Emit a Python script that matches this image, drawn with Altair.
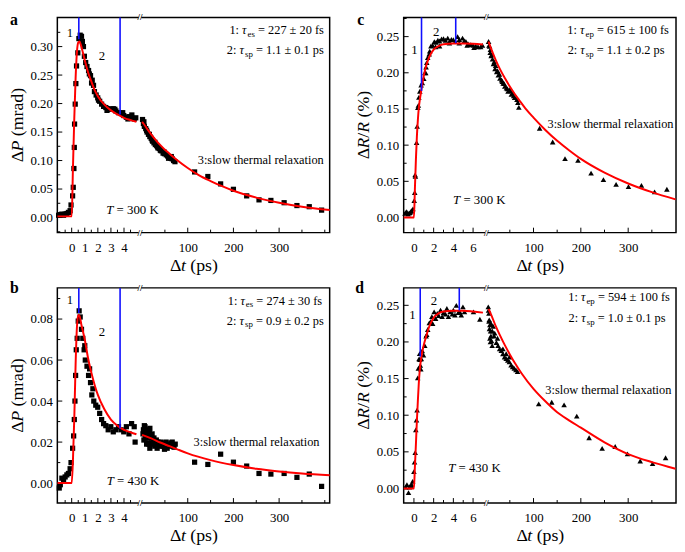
import altair as alt
import pandas as pd

# ================= DATA =================
# ---- panel a : dP, T = 300 K ----
a_t1 = [-1.0, -0.87, -0.75, -0.62, -0.5, -0.37, -0.25, -0.12, -0.05, 0.07, 0.12, 0.17, 0.2, 0.22, 0.27, 0.32,
        0.37, 0.47, 0.55, 0.65, 0.75, 0.82, 0.9, 0.97, 1.07, 1.17, 1.29, 1.35, 1.44, 1.52, 1.57, 1.67, 1.74,
        1.87, 1.99, 2.05, 2.14, 2.29, 2.44, 2.61, 2.7, 2.79, 2.99, 3.18, 3.3, 3.38, 3.58, 3.78, 3.9, 3.98,
        4.18, 4.3, 4.38, 4.58, 4.6, 4.78, 4.9]
a_v1 = [0.004, 0.005, 0.006, 0.004, 0.006, 0.007, 0.009, 0.012, 0.022, 0.038, 0.053, 0.086, 0.123, 0.164,
        0.199, 0.235, 0.266, 0.289, 0.314, 0.320, 0.318, 0.309, 0.300, 0.283, 0.272, 0.265, 0.258, 0.252,
        0.249, 0.236, 0.241, 0.232, 0.221, 0.215, 0.210, 0.206, 0.204, 0.199, 0.195, 0.193, 0.188, 0.191,
        0.190, 0.191, 0.190, 0.187, 0.184, 0.183, 0.184, 0.179, 0.176, 0.173, 0.177, 0.176, 0.180, 0.173, 0.175]
a_t2 = [1, 3, 4, 5, 8, 10, 11, 14, 16, 17, 20, 22, 23, 26, 28, 29, 32, 34, 35, 38, 40, 42, 46, 48, 49, 53,
        56, 58, 60, 63, 64, 66, 69, 72, 115, 144, 172, 200, 229, 256, 282, 311, 339, 366, 393]
a_v2 = [0.172, 0.165, 0.168, 0.160, 0.156, 0.153, 0.150, 0.146, 0.146, 0.142, 0.139, 0.136, 0.134, 0.131,
        0.132, 0.128, 0.126, 0.124, 0.122, 0.121, 0.118, 0.117, 0.113, 0.115, 0.112, 0.110, 0.108, 0.104,
        0.106, 0.104, 0.107, 0.103, 0.100, 0.098, 0.080, 0.072, 0.059, 0.0495, 0.038, 0.031, 0.030, 0.026,
        0.021, 0.019, 0.013]
a_ft1 = [-1.1, 0.0, 0.1, 0.2, 0.3, 0.4, 0.5, 0.6, 0.7, 0.85, 1.0, 1.25, 1.5, 1.75, 2.0, 2.5, 3.0, 3.5, 4.0, 4.5, 4.95]
a_fv1 = [0.002, 0.002, 0.09, 0.175, 0.245, 0.29, 0.307, 0.309, 0.303, 0.29, 0.276, 0.255, 0.239, 0.224,
         0.213, 0.198, 0.188, 0.181, 0.175, 0.171, 0.168]
a_ft2 = [0, 3, 10, 20, 30, 40, 50, 60, 75, 100, 125, 150, 175, 200, 250, 300, 350, 412]
a_fv2 = [0.168, 0.165, 0.157, 0.146, 0.136, 0.127, 0.119, 0.112, 0.102, 0.087, 0.074, 0.064, 0.055, 0.047,
         0.035, 0.026, 0.019, 0.013]
a_mt = [0.545, 3.7]
a_mv = [0.313, 0.181]

# ---- panel b : dP, T = 430 K ----
b_t1 = [-0.95, -0.87, -0.75, -0.62, -0.5, -0.37, -0.25, -0.12, -0.05, 0.07, 0.15, 0.2, 0.25, 0.3, 0.35, 0.42,
        0.5, 0.57, 0.65, 0.75, 0.85, 0.95, 1.0, 1.04, 1.17, 1.29, 1.37, 1.44, 1.54, 1.62, 1.69, 1.84, 1.99,
        2.14, 2.29, 2.44, 2.61, 2.79, 2.99, 3.18, 3.38, 3.58, 3.78, 3.98, 4.18, 4.38, 4.58, 4.78, 4.85]
b_v1 = [-0.0024, -0.0008, 0.0024, 0.001, 0.003, 0.004, 0.0047, 0.007, 0.010, 0.017, 0.023, 0.031, 0.040,
        0.0525, 0.065, 0.0706, 0.079, 0.084, 0.081, 0.075, 0.0706, 0.065, 0.067, 0.060, 0.057, 0.0525,
        0.0557, 0.049, 0.043, 0.046, 0.040, 0.038, 0.037, 0.034, 0.031, 0.029, 0.028, 0.026, 0.0275, 0.025,
        0.026, 0.0275, 0.026, 0.025, 0.0275, 0.024, 0.029, 0.0275, 0.020]
b_t2 = [2, 3, 4, 5, 6.4, 7, 8.5, 9, 10, 11.3, 12, 13, 14.1, 15, 16, 17, 17.1, 19, 20.5, 22, 24.1, 25, 26,
        27.8, 29, 31.2, 33, 34.8, 36, 38.5, 41, 44, 46, 49.1, 52.6, 55, 57.7, 61, 63.2, 66, 68.4, 70, 72.6,
        115, 144, 172, 200, 229, 256, 282, 311, 339, 366, 393]
b_v2 = [0.024, 0.026, 0.021, 0.028, 0.0275, 0.022, 0.0235, 0.026, 0.019, 0.025, 0.0196, 0.024, 0.022,
        0.019, 0.025, 0.017, 0.0267, 0.023, 0.0196, 0.024, 0.021, 0.019, 0.022, 0.018, 0.020, 0.021, 0.017,
        0.020, 0.019, 0.018, 0.020, 0.0196, 0.018, 0.0165, 0.020, 0.017, 0.019, 0.018, 0.0196, 0.020, 0.018,
        0.0175, 0.019, 0.0102, 0.0091, 0.0141, 0.0102, 0.0083, 0.0047, 0.0044, 0.0047, 0.0028, 0.0044, -0.0016]
b_ft1 = [-1.1, 0.0, 0.1, 0.2, 0.3, 0.4, 0.5, 0.6, 0.75, 1.0, 1.25, 1.5, 1.75, 2.0, 2.5, 3.0, 3.5, 4.0, 4.5, 4.95]
b_fv1 = [0.0, 0.0, 0.012, 0.032, 0.058, 0.076, 0.082, 0.0815, 0.077, 0.070, 0.061, 0.054, 0.048, 0.043,
         0.036, 0.031, 0.028, 0.026, 0.0248, 0.0238]
b_ft2 = [0, 20, 40, 60, 80, 100, 150, 200, 250, 300, 350, 412]
b_fv2 = [0.0235, 0.0218, 0.0198, 0.018, 0.0162, 0.0145, 0.0112, 0.0088, 0.0070, 0.0057, 0.0047, 0.0038]
b_mt = [0.545, 3.7]
b_mv = [0.083, 0.0266]

# ---- panel c : dR/R, T = 300 K ----
c_t1 = [-0.9, -0.8, -0.73, -0.6, -0.5, -0.4, -0.3, -0.23, -0.1, 0.03, 0.08, 0.12, 0.15, 0.27, 0.33, 0.4,
        0.45, 0.5, 0.6, 0.73, 0.85, 1.0, 1.1, 1.2, 1.23, 1.3, 1.4, 1.55, 1.6, 1.73, 1.9, 2.07, 2.2, 2.25, 2.43,
        2.6, 2.6, 2.8, 3.0, 3.2, 3.43, 3.6, 3.6, 3.8, 4.0, 4.2, 4.43, 4.6, 4.6, 4.93, 5.1, 5.27, 5.4, 5.5,
        5.77, 6.0, 6.1, 6.27, 6.5, 6.77, 6.95]
c_v1 = [0.0057, 0.0075, 0.008, 0.0048, 0.006, 0.0067, 0.0085, 0.0093, 0.012, 0.0235, 0.0346, 0.059, 0.057,
        0.1035, 0.126, 0.152, 0.155, 0.166, 0.1745, 0.183, 0.186, 0.192, 0.200, 0.200, 0.208, 0.214, 0.221,
        0.226, 0.230, 0.237, 0.238, 0.243, 0.236, 0.242, 0.245, 0.244, 0.237, 0.2467, 0.247, 0.245, 0.248,
        0.243, 0.241, 0.246, 0.2457, 0.243, 0.250, 0.246, 0.241, 0.248, 0.244, 0.2435, 0.238, 0.240, 0.239,
        0.238, 0.235, 0.237, 0.236, 0.236, 0.238]
c_t2 = [5.1, 6, 7.2, 8.5, 9, 10.6, 12, 13.4, 15.4, 17, 18.8, 20, 22.3, 24, 25.7, 28, 29.1, 32.6, 34, 36, 38,
        39.4, 42.9, 45, 46.3, 49.8, 52, 53.2, 56.6, 58, 60.1, 63.5, 65, 67, 69,
        113, 140.5, 166.6, 194, 221.6, 247.7, 274.5, 300.6, 328, 355.7, 381.7]
c_v2 = [0.2433, 0.238, 0.2367, 0.2278, 0.232, 0.2234, 0.225, 0.2189, 0.2123, 0.215, 0.2056, 0.210, 0.2012,
        0.203, 0.1967, 0.198, 0.1923, 0.190, 0.188, 0.1856, 0.185, 0.1812, 0.179, 0.178, 0.1745, 0.1767,
        0.175, 0.1701, 0.1723, 0.168, 0.1656, 0.1656, 0.163, 0.159, 0.1523,
        0.1234, 0.1044, 0.0813, 0.079, 0.0613, 0.0524, 0.0457, 0.0426, 0.0444, 0.0355, 0.0391]
c_ft1 = [-1.1, 0.0, 0.1, 0.2, 0.3, 0.4, 0.5, 0.6, 0.75, 1.0, 1.25, 1.5, 1.75, 2.0, 2.5, 3.0, 4.0, 5.0, 6.0, 7.0]
c_fv1 = [0.0, 0.0, 0.04, 0.08, 0.112, 0.135, 0.152, 0.163, 0.176, 0.196, 0.21, 0.22, 0.227, 0.232, 0.237,
         0.2395, 0.2405, 0.2405, 0.240, 0.239]
c_ft2 = [5, 10, 20, 30, 40, 50, 60, 70, 85, 100, 125, 150, 175, 200, 250, 300, 350, 400]
c_fv2 = [0.243, 0.234, 0.218, 0.204, 0.192, 0.181, 0.171, 0.162, 0.149, 0.138, 0.121, 0.106, 0.093, 0.081,
         0.062, 0.047, 0.035, 0.025]
c_mt = [0.77, 4.24]
c_mv = [0.175, 0.241]

# ---- panel d : dR/R, T = 430 K ----
d_t1 = [-0.84, -0.71, -0.55, -0.45, -0.39, -0.3, -0.23, -0.13, 0.0, 0.06, 0.13, 0.19, 0.26, 0.32, 0.39, 0.45,
        0.52, 0.58, 0.6, 0.65, 0.7, 0.75, 0.84, 0.97, 1.1, 1.23, 1.3, 1.4, 1.56, 1.72, 1.82, 1.9, 2.05, 2.2,
        2.37, 2.5, 2.7, 2.86, 3.0, 3.2, 3.34, 3.5, 3.67, 3.9, 4.0, 4.16, 4.3, 4.5, 4.64, 4.8, 4.97, 5.13,
        6.04, 6.69]
d_v1 = [0.0018, 0.0053, -0.0057, 0.002, 0.0031, 0.004, 0.0053, 0.0097, 0.023, 0.036, 0.049, 0.080, 0.0935,
        0.107, 0.151, 0.164, 0.177, 0.184, 0.176, 0.168, 0.163, 0.177, 0.188, 0.182, 0.195, 0.208, 0.210,
        0.217, 0.226, 0.228, 0.2346, 0.225, 0.241, 0.232, 0.239, 0.236, 0.2434, 0.2346, 0.240, 0.238,
        0.2456, 0.2346, 0.241, 0.238, 0.2434, 0.2368, 0.250, 0.240, 0.241, 0.2368, 0.2478, 0.241, 0.241, 0.231]
d_t2 = [4.5, 5, 5.8, 6, 6.5, 7, 7.9, 8, 9, 9.3, 10, 10.5, 11.3, 12.7, 13, 14.8, 16.8, 18, 21.6, 24, 25.1,
        28.5, 32, 35.4, 35.4, 38.8, 42.3, 42.3, 45.7, 49.1, 49.1, 52.6, 56, 59.4, 62.9, 66.3,
        111, 138.5, 164.6, 191.4, 217.5, 245, 272.5, 298.6, 325.4, 351.5, 379]
d_v2 = [0.2478, 0.243, 0.239, 0.228, 0.2302, 0.218, 0.2235, 0.205, 0.200, 0.2147, 0.2081, 0.225, 0.2015,
        0.1949, 0.215, 0.2213, 0.2081, 0.212, 0.1993, 0.205, 0.1949, 0.1905, 0.1883, 0.1839, 0.1905, 0.1795,
        0.1772, 0.1839, 0.175, 0.1728, 0.1795, 0.1684, 0.1662, 0.164, 0.1618, 0.1596,
        0.1155, 0.1177, 0.1142, 0.0988, 0.0692, 0.0547, 0.0573, 0.0472, 0.0375, 0.034, 0.0419]
d_ft1 = [-1.1, 0.0, 0.1, 0.2, 0.3, 0.4, 0.5, 0.6, 0.75, 1.0, 1.25, 1.5, 1.75, 2.0, 2.5, 3.0, 4.0, 5.0, 6.0, 7.0]
d_fv1 = [0.0, 0.0, 0.03, 0.06, 0.092, 0.12, 0.145, 0.163, 0.179, 0.196, 0.208, 0.219, 0.227, 0.233, 0.239,
         0.2415, 0.2425, 0.2425, 0.2415, 0.240]
d_ft2 = [5, 10, 20, 30, 40, 50, 60, 75, 100, 125, 150, 175, 200, 250, 300, 350, 400]
d_fv2 = [0.245, 0.238, 0.222, 0.208, 0.195, 0.183, 0.172, 0.157, 0.136, 0.119, 0.104, 0.093, 0.083, 0.063,
         0.047, 0.036, 0.027]
d_mt = [0.64, 4.6]
d_mv = [0.18, 0.243]

# ---- axis tick values ----
ab_xmaj1 = [0, 1, 2, 3, 4]
ab_xmin1 = [-0.5, 0.5, 1.5, 2.5, 3.5, 4.5]
cd_xmaj1 = [0, 2, 4, 6]
cd_xmin1 = [1, 3, 5]
xmaj2 = [100, 200, 300]
ab_xmin2 = [50, 150, 250, 350, 400]
cd_xmin2 = [50, 150, 250, 350]
a_ymaj = [0.0, 0.05, 0.10, 0.15, 0.20, 0.25, 0.30]
a_ymin = [-0.025, 0.025, 0.075, 0.125, 0.175, 0.225, 0.275, 0.325]
b_ymaj = [0.0, 0.02, 0.04, 0.06, 0.08]
b_ymin = [0.01, 0.03, 0.05, 0.07, 0.09]
c_ymaj = [0.0, 0.05, 0.10, 0.15, 0.20, 0.25]
c_ymin = [0.025, 0.075, 0.125, 0.175, 0.225, 0.275]
d_ymin = [0.025, 0.075, 0.125, 0.175, 0.225]

# ================= LAYOUT / STYLE =================
FONT = "Liberation Serif"
W, H = 276, 218
RW, RH = 279.0, 223.5
ONE = pd.DataFrame({"k": [0]})
RED = "#ff0000"
BLUE = "#1010ff"


def SX(x):
    return x * W / RW


def SY(y):
    return y * H / RH


CW = {" ": 0.25, ".": 0.25, ":": 0.278, "=": 0.564, "±": 0.549, "Δ": 0.612, "(": 0.333, ")": 0.333,
      "/": 0.278, "%": 0.833, "a": 0.444, "d": 0.5, "e": 0.444, "f": 0.333, "h": 0.5, "i": 0.278,
      "l": 0.278, "m": 0.778, "n": 0.5, "o": 0.5, "p": 0.5, "r": 0.333, "s": 0.389, "t": 0.278,
      "w": 0.722, "x": 0.5, "K": 0.722, "P": 0.556, "R": 0.667, "T": 0.611, "τ": 0.44}
CWI = {"P": 0.611, "R": 0.611, "T": 0.556, "t": 0.278, "τ": 0.44}


def tw(s, size, italic=False):
    tot = 0.0
    for ch in s:
        w = CW.get(ch, 0.5)
        if italic and ch in CWI:
            w = CWI[ch]
        tot += w
    return tot * size


def rich(runs, x, y, size, align="left", angle=0):
    items = []
    for txt, kind in runs:
        sz = size * 0.72 if kind == "s" else size
        items.append((txt, kind, sz, tw(txt, sz, kind == "i")))
    total = sum(it[3] for it in items)
    start = 0 if align == "left" else (-total if align == "right" else -total / 2)
    out = []
    pos = start
    for txt, kind, sz, w in items:
        lead = len(txt) - len(txt.lstrip(" "))
        body = txt.strip(" ")
        off = pos + lead * CW[" "] * sz
        if body:
            if angle == 0:
                px, py = x + off, y + (0.3 * size if kind == "s" else 0)
            else:
                px, py = x, y - off
            mk = dict(text=body, font=FONT, fontSize=sz, align="left", baseline="middle",
                      color="black", fontStyle="italic" if kind == "i" else "normal")
            if angle:
                mk["angle"] = angle
            out.append(alt.Chart(ONE).mark_text(**mk).encode(x=alt.value(px), y=alt.value(py)))
        pos += w
    return out


def panel(c):
    X0, S1, X100, S2 = c["xmap"]
    expr = f"datum.seg == 1 ? {X0} + {S1} * datum.t : {X100} + {S2} * (datum.t - 100)"
    xs = alt.Scale(domain=[0, RW], nice=False, zero=False)
    ys = alt.Scale(domain=c["ydom"], nice=False, zero=False)
    xvals = [X0 + S1 * t for t in c["xmaj1"]] + [X100 + S2 * (t - 100) for t in xmaj2]
    lab = (f"datum.value < 84 ? format((datum.value - {X0}) / {S1}, '.0f') : "
           f"format(100 + (datum.value - {X100}) / {S2}, '.0f')")
    xaxis = alt.Axis(values=xvals, labelExpr=lab, ticks=False, domain=False, grid=False, labelPadding=9,
                     labelFont=FONT, labelFontSize=13, labelColor="black", labelFlush=False,
                     labelOverlap=False, title=None)
    yaxis = alt.Axis(values=c["ymaj"], format=".2f", ticks=False, domain=False, grid=False, labelPadding=5,
                     labelFont=FONT, labelFontSize=13, labelColor="black", labelFlush=False,
                     labelOverlap=False, title=None)

    def segdf(t1, v1, t2, v2):
        return pd.DataFrame({"t": list(t1) + list(t2), "v": list(v1) + list(v2),
                             "seg": [1] * len(t1) + [2] * len(t2)})

    pts = segdf(c["t1"], c["v1"], c["t2"], c["v2"])
    fit = segdf(c["ft1"], c["fv1"], c["ft2"], c["fv2"])
    mk = pd.DataFrame({"t": c["mt"], "v": c["mv"], "seg": [1] * len(c["mt"])})
    xtj = pd.DataFrame({"t": c["xmaj1"] + xmaj2, "seg": [1] * len(c["xmaj1"]) + [2] * len(xmaj2)})
    xtn = pd.DataFrame({"t": c["xmin1"] + c["xmin2"], "seg": [1] * len(c["xmin1"]) + [2] * len(c["xmin2"])})
    ytj = pd.DataFrame({"v": c["ymaj"]})
    ytn = pd.DataFrame({"v": c["ymin"]})

    X = lambda: alt.X("u:Q", scale=xs, axis=xaxis)
    Y = lambda: alt.Y("v:Q", scale=ys, axis=yaxis)

    L = []
    L.append(alt.Chart(ytj).mark_rule(color="black", strokeWidth=1).encode(
        y=Y(), x=alt.value(0), x2=alt.value(5)))
    L.append(alt.Chart(ytn).mark_rule(color="black", strokeWidth=1).encode(
        y=Y(), x=alt.value(0), x2=alt.value(3)))
    L.append(alt.Chart(xtj).transform_calculate(u=expr).mark_rule(color="black", strokeWidth=1).encode(
        x=X(), y=alt.value(H), y2=alt.value(H - 5)))
    L.append(alt.Chart(xtn).transform_calculate(u=expr).mark_rule(color="black", strokeWidth=1).encode(
        x=X(), y=alt.value(H), y2=alt.value(H - 3)))
    L.append(alt.Chart(pts).transform_calculate(u=expr).mark_point(
        shape=c["shape"], filled=True, color="black", opacity=1, size=c["size"], strokeWidth=0).encode(
        x=X(), y=Y()))
    L.append(alt.Chart(fit).transform_calculate(u=expr).mark_line(
        color=RED, strokeWidth=2, interpolate="monotone", clip=True).encode(
        x=X(), y=Y(), detail="seg:N", order="t:Q"))
    L.append(alt.Chart(mk).transform_calculate(u=expr).mark_rule(color=BLUE, strokeWidth=1.6).encode(
        x=X(), y=Y(), y2=alt.value(0)))
    # axis break
    for yy in (0, H):
        L.append(alt.Chart(ONE).mark_rect(color="white").encode(
            x=alt.value(SX(83.3)), x2=alt.value(SX(86.0)), y=alt.value(yy - 2.5), y2=alt.value(yy + 2.5)))
        L.append(alt.Chart(ONE).mark_text(text="//", font=FONT, fontSize=9, align="center",
                                          baseline="middle", color="black", fontWeight="bold").encode(
            x=alt.value(SX(84.7)), y=alt.value(yy)))
    # panel letter
    L.append(alt.Chart(ONE).mark_text(text=c["letter"], font=FONT, fontSize=16, fontWeight="bold",
                                      align="left", baseline="alphabetic", color="black").encode(
        x=alt.value(c["lx"]), y=alt.value(c["ly"])))
    # axis titles
    L += rich(c["ytitle"], -40, H / 2, 18, "center", 270)
    L += rich([("Δ", "n"), ("t", "i"), (" (ps)", "n")], SX(140), H + 34, 18, "center")
    # annotations
    for runs, x, y, size, align in c["ann"]:
        L += rich(runs, SX(x), SY(y), size, align)
    return alt.layer(*L).properties(width=W, height=H)


def tau_line(num, sub, rest):
    return [(num + ": ", "n"), ("τ", "i"), (sub, "s"), (rest, "n")]


cfg_a = dict(letter="a", lx=-48, ly=8, t1=a_t1, v1=a_v1, t2=a_t2, v2=a_v2, ft1=a_ft1, fv1=a_fv1,
             ft2=a_ft2, fv2=a_fv2, mt=a_mt, mv=a_mv, ydom=[-0.0265, 0.351], ymaj=a_ymaj, ymin=a_ymin,
             xmap=(14.7, 13.4, 133.6, 0.468), xmaj1=ab_xmaj1, xmin1=ab_xmin1, xmin2=ab_xmin2,
             shape="square", size=28, ytitle=[("Δ", "n"), ("P", "i"), (" (mrad)", "n")],
             ann=[([("1", "n")], 13, 16.2, 13, "center"), ([("2", "n")], 45.7, 40.2, 13, "center"),
                  (tau_line("1", "es", " = 227 ± 20 fs"), 273, 13.5, 12.5, "right"),
                  (tau_line("2", "sp", " = 1.1 ± 0.1 ps"), 273, 34.2, 12.5, "right"),
                  ([("3:slow thermal relaxation", "n")], 273, 148.5, 12.5, "right"),
                  ([("T", "i"), (" = 300 K", "n")], 77, 200.5, 13, "center")])
cfg_b = dict(letter="b", lx=-48, ly=5, t1=b_t1, v1=b_v1, t2=b_t2, v2=b_v2, ft1=b_ft1, fv1=b_fv1,
             ft2=b_ft2, fv2=b_fv2, mt=b_mt, mv=b_mv, ydom=[-0.0097, 0.0952], ymaj=b_ymaj, ymin=b_ymin,
             xmap=(14.7, 13.4, 133.6, 0.468), xmaj1=ab_xmaj1, xmin1=ab_xmin1, xmin2=ab_xmin2,
             shape="square", size=28, ytitle=[("Δ", "n"), ("P", "i"), (" (mrad)", "n")],
             ann=[([("1", "n")], 13, 12.3, 13, "center"), ([("2", "n")], 45.7, 46.3, 13, "center"),
                  (tau_line("1", "es", " = 274 ± 30 fs"), 271.3, 13.3, 12.5, "right"),
                  (tau_line("2", "sp", " = 0.9 ± 0.2 ps"), 273, 34, 12.5, "right"),
                  ([("3:slow thermal relaxation", "n")], 268.7, 160.7, 12.5, "right"),
                  ([("T", "i"), (" = 430 K", "n")], 77.5, 200.7, 13, "center")])
cfg_c = dict(letter="c", lx=-47, ly=8, t1=c_t1, v1=c_v1, t2=c_t2, v2=c_v2, ft1=c_ft1, fv1=c_fv1,
             ft2=c_ft2, fv2=c_fv2, mt=c_mt, mv=c_mv, ydom=[-0.0209, 0.2764], ymaj=c_ymaj, ymin=c_ymin,
             xmap=(10.5, 10.1, 133.0, 0.485), xmaj1=cd_xmaj1, xmin1=cd_xmin1, xmin2=cd_xmin2,
             shape="triangle-up", size=32,
             ytitle=[("Δ", "n"), ("R", "i"), ("/", "n"), ("R", "i"), (" (%)", "n")],
             ann=[([("1", "n")], 11, 33.7, 13, "center"), ([("2", "n")], 33.3, 14.7, 13, "center"),
                  (tau_line("1", "ep", " = 615 ± 100 fs"), 271.7, 13, 12.5, "right"),
                  (tau_line("2", "sp", " = 1.1 ± 0.2 ps"), 267.3, 33.7, 12.5, "right"),
                  ([("3:slow thermal relaxation", "n")], 276.5, 110.3, 12.5, "right"),
                  ([("T", "i"), (" = 300 K", "n")], 77.5, 189.7, 13, "center")])
cfg_d = dict(letter="d", lx=-49, ly=5, t1=d_t1, v1=d_v1, t2=d_t2, v2=d_v2, ft1=d_ft1, fv1=d_fv1,
             ft2=d_ft2, fv2=d_fv2, mt=d_mt, mv=d_mv, ydom=[-0.0198, 0.2738], ymaj=c_ymaj, ymin=d_ymin,
             xmap=(10.5, 10.1, 133.0, 0.485), xmaj1=cd_xmaj1, xmin1=cd_xmin1, xmin2=cd_xmin2,
             shape="triangle-up", size=32,
             ytitle=[("Δ", "n"), ("R", "i"), ("/", "n"), ("R", "i"), (" (%)", "n")],
             ann=[([("1", "n")], 9, 28, 13, "center"), ([("2", "n")], 31, 13.7, 13, "center"),
                  (tau_line("1", "ep", " = 594 ± 100 fs"), 272.7, 9.7, 12.5, "right"),
                  (tau_line("2", "sp", " = 1.0 ± 0.1 ps"), 268.3, 31.3, 12.5, "right"),
                  ([("3:slow thermal relaxation", "n")], 274.3, 105.7, 12.5, "right"),
                  ([("T", "i"), (" = 430 K", "n")], 72.5, 187, 13, "center")])

chart = alt.concat(panel(cfg_a), panel(cfg_c), panel(cfg_b), panel(cfg_d), columns=2,
                   spacing={"row": 56, "column": 75}, bounds="flush").properties(
    padding=0, background="white").configure_view(stroke="black", strokeWidth=1.5)

chart.save("out.html", embed_options={"renderer": "svg", "actions": False})
